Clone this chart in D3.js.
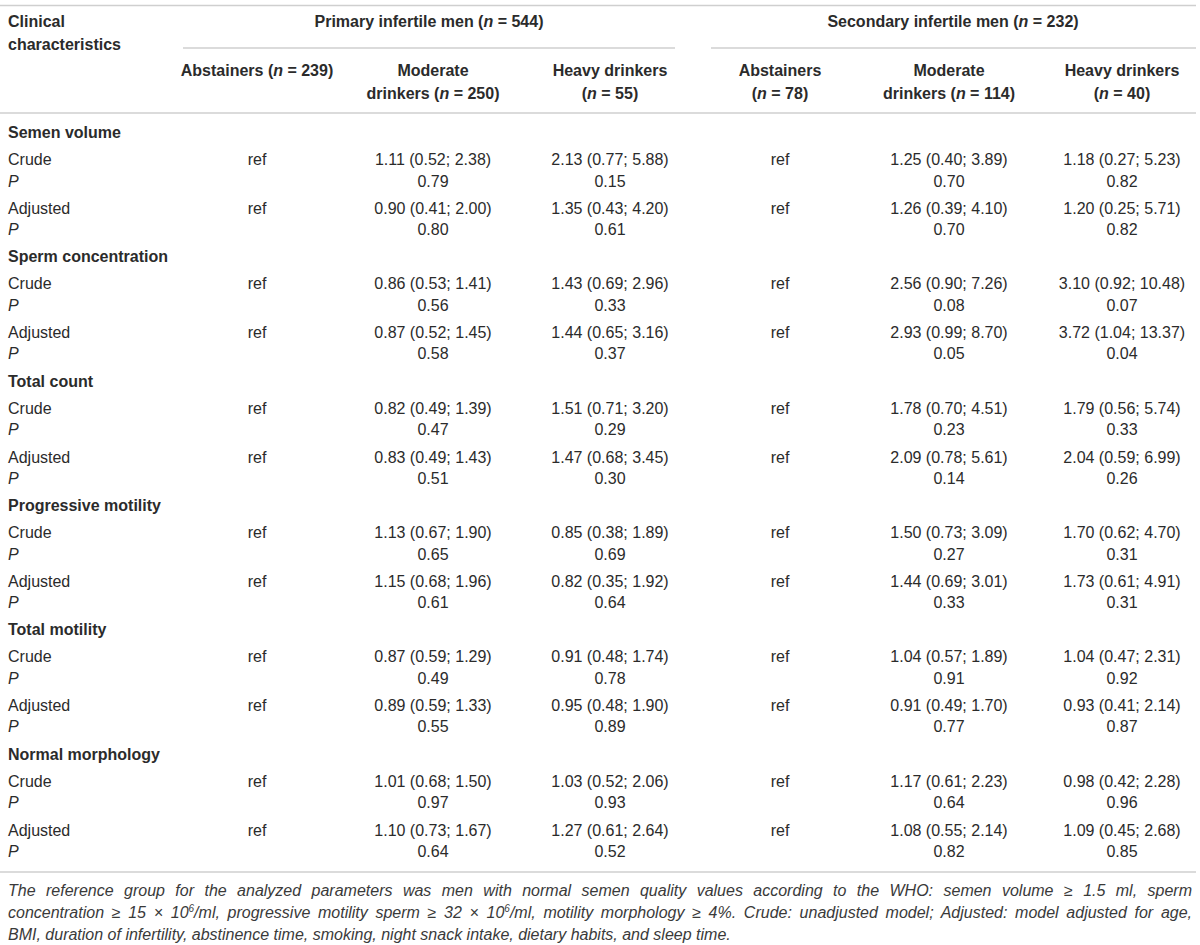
<!DOCTYPE html>
<html>
<head>
<meta charset="utf-8">
<script src="https://cdn.jsdelivr.net/npm/d3@7"></script>
<style>
  html, body { margin: 0; padding: 0; background: #fff; }
  svg { display: block; font-family: "Liberation Sans", Arial, Helvetica, sans-serif; }
</style>
</head>
<body>
<div id="chart"></div>
<script>
const groups = ["Primary infertile men", "Secondary infertile men"];
const groupN = [544, 232];
const drinkerLabels = ["Abstainers", "Moderate drinkers", "Heavy drinkers"];
const drinkerN = [239, 250, 55, 78, 114, 40];
const parameters = ["Semen volume", "Sperm concentration", "Total count",
  "Progressive motility", "Total motility", "Normal morphology"];

// odds ratios (95% CI) for moderate / heavy, primary then secondary
const crudeOR = [
  ["1.11 (0.52; 2.38)", "2.13 (0.77; 5.88)", "1.25 (0.40; 3.89)", "1.18 (0.27; 5.23)"],
  ["0.86 (0.53; 1.41)", "1.43 (0.69; 2.96)", "2.56 (0.90; 7.26)", "3.10 (0.92; 10.48)"],
  ["0.82 (0.49; 1.39)", "1.51 (0.71; 3.20)", "1.78 (0.70; 4.51)", "1.79 (0.56; 5.74)"],
  ["1.13 (0.67; 1.90)", "0.85 (0.38; 1.89)", "1.50 (0.73; 3.09)", "1.70 (0.62; 4.70)"],
  ["0.87 (0.59; 1.29)", "0.91 (0.48; 1.74)", "1.04 (0.57; 1.89)", "1.04 (0.47; 2.31)"],
  ["1.01 (0.68; 1.50)", "1.03 (0.52; 2.06)", "1.17 (0.61; 2.23)", "0.98 (0.42; 2.28)"]
];
const crudeP = [
  ["0.79", "0.15", "0.70", "0.82"],
  ["0.56", "0.33", "0.08", "0.07"],
  ["0.47", "0.29", "0.23", "0.33"],
  ["0.65", "0.69", "0.27", "0.31"],
  ["0.49", "0.78", "0.91", "0.92"],
  ["0.97", "0.93", "0.64", "0.96"]
];
const adjustedOR = [
  ["0.90 (0.41; 2.00)", "1.35 (0.43; 4.20)", "1.26 (0.39; 4.10)", "1.20 (0.25; 5.71)"],
  ["0.87 (0.52; 1.45)", "1.44 (0.65; 3.16)", "2.93 (0.99; 8.70)", "3.72 (1.04; 13.37)"],
  ["0.83 (0.49; 1.43)", "1.47 (0.68; 3.45)", "2.09 (0.78; 5.61)", "2.04 (0.59; 6.99)"],
  ["1.15 (0.68; 1.96)", "0.82 (0.35; 1.92)", "1.44 (0.69; 3.01)", "1.73 (0.61; 4.91)"],
  ["0.89 (0.59; 1.33)", "0.95 (0.48; 1.90)", "0.91 (0.49; 1.70)", "0.93 (0.41; 2.14)"],
  ["1.10 (0.73; 1.67)", "1.27 (0.61; 2.64)", "1.08 (0.55; 2.14)", "1.09 (0.45; 2.68)"]
];
const adjustedP = [
  ["0.80", "0.61", "0.70", "0.82"],
  ["0.58", "0.37", "0.05", "0.04"],
  ["0.51", "0.30", "0.14", "0.26"],
  ["0.61", "0.64", "0.33", "0.31"],
  ["0.55", "0.89", "0.77", "0.87"],
  ["0.64", "0.52", "0.82", "0.85"]
];

// footnote lines; "^6" marks a superscript
const footnote = [
  "The reference group for the analyzed parameters was men with normal semen quality values according to the WHO: semen volume ≥ 1.5 ml, sperm",
  "concentration ≥ 15 × 10^6/ml, progressive motility sperm ≥ 32 × 10^6/ml, motility morphology ≥ 4%. Crude: unadjusted model; Adjusted: model adjusted for age,",
  "BMI, duration of infertility, abstinence time, smoking, night snack intake, dietary habits, and sleep time."
];

const width = 1200, height = 945;
const left = 8, right = 1192;
const fontSize = 16;
const textColor = "#2b2b2b", ruleColor = "#cfcfcf";

const svg = d3.select("#chart").append("svg")
  .attr("width", width)
  .attr("height", height);

// column centres of the 6 drinker columns
const x = d3.scaleOrdinal()
  .domain(d3.range(6))
  .range([257, 433, 610, 780, 949, 1122]);

// section y positions
const sectionY = d3.scaleLinear().domain([0, parameters.length - 1]).range([132.5, 754]);
const rowOffsets = [27, 48.5, 76, 97];

function rule(y, x1, x2) {
  svg.append("line")
    .attr("x1", x1).attr("x2", x2)
    .attr("y1", y).attr("y2", y)
    .attr("stroke", ruleColor)
    .attr("stroke-width", 1.5);
}

// text with italic n
function nText(sel, before, n, after) {
  sel.append("tspan").text(before);
  sel.append("tspan").attr("font-style", "italic").text("n");
  sel.append("tspan").text(" = " + n + after);
}

function label(xp, y, anchor, bold) {
  return svg.append("text")
    .attr("x", xp)
    .attr("y", y)
    .attr("dy", "0.35em")
    .attr("text-anchor", anchor)
    .attr("font-size", fontSize)
    .attr("font-weight", bold ? "bold" : "normal")
    .attr("fill", textColor);
}

// rules
rule(5.5, 0, 1196);
rule(48, 183, 675);
rule(48, 711, 1196);
rule(113, 0, 1196);
rule(872, 0, 1196);

// header
label(left, 21, "start", true).text("Clinical");
label(left, 44, "start", true).text("characteristics");

const groupCenters = [429, 953];
groups.forEach((g, i) => {
  nText(label(groupCenters[i], 21, "middle", true), g + " (", groupN[i], ")");
});

// sub headers, broken into lines as in the original
const headerBreaks = [
  [["Abstainers (", ")"]],
  [["Moderate", null], ["drinkers (", ")"]],
  [["Heavy drinkers", null], ["(", ")"]],
  [["Abstainers", null], ["(", ")"]],
  [["Moderate", null], ["drinkers (", ")"]],
  [["Heavy drinkers", null], ["(", ")"]]
];
headerBreaks.forEach((lines, c) => {
  lines.forEach((ln, k) => {
    const t = label(x(c), 70 + k * 23, "middle", true);
    if (ln[1] === null) t.text(ln[0]);
    else nText(t, ln[0], drinkerN[c], ln[1]);
  });
});

// body
parameters.forEach((p, s) => {
  const y0 = sectionY(s);
  label(left, y0, "start", true).text(p);

  const rows = [
    { name: "Crude", vals: crudeOR[s], ref: true },
    { name: "P", vals: crudeP[s], ref: false },
    { name: "Adjusted", vals: adjustedOR[s], ref: true },
    { name: "P", vals: adjustedP[s], ref: false }
  ];
  rows.forEach((r, k) => {
    const y = y0 + rowOffsets[k];
    label(left, y, "start", false)
      .attr("font-style", r.name === "P" ? "italic" : "normal")
      .text(r.name);
    if (r.ref) {
      label(x(0), y, "middle", false).text("ref");
      label(x(3), y, "middle", false).text("ref");
    }
    const cols = [1, 2, 4, 5];
    r.vals.forEach((v, j) => {
      label(x(cols[j]), y, "middle", false).text(v);
    });
  });
});

// footnote, justified
const footY = [890, 912, 934];
footnote.forEach((line, i) => {
  const t = svg.append("text")
    .attr("x", left)
    .attr("y", footY[i])
    .attr("dy", "0.35em")
    .attr("font-size", fontSize)
    .attr("font-style", "italic")
    .attr("fill", "#3a3a3a");
  line.split("^").forEach((part, k) => {
    if (k === 0) { t.append("tspan").text(part); return; }
    t.append("tspan").attr("font-size", 10).attr("dy", "-0.6em").text(part[0]);
    t.append("tspan").attr("dy", "0.375em").text(part.slice(1));
  });
  if (i < footnote.length - 1) {
    const natural = t.node().getComputedTextLength();
    const spaces = (line.match(/ /g) || []).length;
    t.attr("word-spacing", (right - left - natural) / spaces);
  }
});
</script>
</body>
</html>
